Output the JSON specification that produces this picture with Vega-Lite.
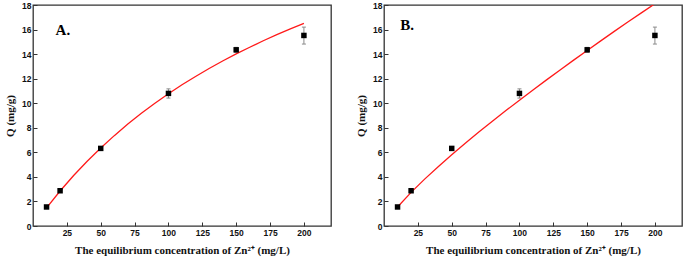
{
  "$schema": "https://vega.github.io/schema/vega-lite/v6.json",
  "padding": {"left": 3, "top": 0, "right": 2, "bottom": 0},
  "background": "white",
  "datasets": {
    "obs": [
      {"c": 10, "q": 1.55, "lo": 1.45, "hi": 1.65},
      {"c": 20, "q": 2.87, "lo": 2.75, "hi": 2.98},
      {"c": 50, "q": 6.32, "lo": 6.2, "hi": 6.45},
      {"c": 100, "q": 10.8, "lo": 10.42, "hi": 11.17},
      {"c": 150, "q": 14.35, "lo": 14.15, "hi": 14.55},
      {"c": 200, "q": 15.52, "lo": 14.82, "hi": 16.2}
    ],
    "fitA": [
      {"c": 10, "q": 1.48}, {"c": 20, "q": 2.85}, {"c": 30, "q": 4.11}, {"c": 40, "q": 5.27},
      {"c": 50, "q": 6.35}, {"c": 60, "q": 7.36}, {"c": 70, "q": 8.3}, {"c": 80, "q": 9.18},
      {"c": 90, "q": 10.0}, {"c": 100, "q": 10.77}, {"c": 110, "q": 11.5}, {"c": 120, "q": 12.18},
      {"c": 130, "q": 12.83}, {"c": 140, "q": 13.44}, {"c": 150, "q": 14.02}, {"c": 160, "q": 14.56},
      {"c": 170, "q": 15.09}, {"c": 180, "q": 15.58}, {"c": 190, "q": 16.05}, {"c": 200, "q": 16.5}
    ],
    "fitB": [
      {"c": 10, "q": 1.55}, {"c": 20, "q": 2.74}, {"c": 30, "q": 3.82}, {"c": 40, "q": 4.83},
      {"c": 50, "q": 5.8}, {"c": 60, "q": 6.74}, {"c": 70, "q": 7.65}, {"c": 80, "q": 8.54},
      {"c": 90, "q": 9.4}, {"c": 100, "q": 10.25}, {"c": 110, "q": 11.08}, {"c": 120, "q": 11.9},
      {"c": 130, "q": 12.71}, {"c": 140, "q": 13.51}, {"c": 150, "q": 14.3}, {"c": 160, "q": 15.08},
      {"c": 170, "q": 15.85}, {"c": 180, "q": 16.61}, {"c": 190, "q": 17.36}, {"c": 200, "q": 18.1}
    ]
  },
  "spacing": 22,
  "hconcat": [
    {
      "width": 298,
      "height": 221,
      "layer": [
        {
          "data": {"name": "obs"},
          "mark": {"type": "rule", "color": "#8a8a8a", "strokeWidth": 1},
          "encoding": {
            "x": {"field": "c", "type": "quantitative", "scale": {"domain": [0, 220], "nice": false},
                  "axis": {"values": [25, 50, 75, 100, 125, 150, 175, 200], "tickCount": 20, "labelOverlap": false, "title": "The equilibrium concentration of Zn²⁺ (mg/L)"}},
            "y": {"field": "lo", "type": "quantitative", "scale": {"domain": [0, 18], "nice": false},
                  "axis": {"values": [0, 2, 4, 6, 8, 10, 12, 14, 16, 18], "tickCount": 20, "labelOverlap": false, "labelFlush": false, "title": "Q (mg/g)"}},
            "y2": {"field": "hi"}
          }
        },
        {
          "data": {"name": "obs"},
          "mark": {"type": "tick", "orient": "horizontal", "size": 4, "thickness": 1, "color": "#8a8a8a", "opacity": 1},
          "encoding": {"x": {"field": "c", "type": "quantitative"}, "y": {"field": "lo", "type": "quantitative"}}
        },
        {
          "data": {"name": "obs"},
          "mark": {"type": "tick", "orient": "horizontal", "size": 4, "thickness": 1, "color": "#8a8a8a", "opacity": 1},
          "encoding": {"x": {"field": "c", "type": "quantitative"}, "y": {"field": "hi", "type": "quantitative"}}
        },
        {
          "data": {"name": "fitA"},
          "mark": {"type": "line", "color": "#ff1a1a", "strokeWidth": 1.3, "clip": true},
          "encoding": {"x": {"field": "c", "type": "quantitative"}, "y": {"field": "q", "type": "quantitative"}}
        },
        {
          "data": {"name": "obs"},
          "mark": {"type": "square", "size": 30, "color": "black", "opacity": 1, "filled": true},
          "encoding": {"x": {"field": "c", "type": "quantitative"}, "y": {"field": "q", "type": "quantitative"}}
        },
        {
          "data": {"values": [{"label": "A."}]},
          "mark": {"type": "text", "font": "Liberation Serif", "fontWeight": "bold", "fontSize": 15, "align": "left", "baseline": "alphabetic", "color": "black"},
          "encoding": {
            "x": {"datum": 16.7},
            "y": {"datum": 15.57},
            "text": {"field": "label"}
          }
        }
      ]
    },
    {
      "width": 298,
      "height": 221,
      "layer": [
        {
          "data": {"name": "obs"},
          "mark": {"type": "rule", "color": "#8a8a8a", "strokeWidth": 1},
          "encoding": {
            "x": {"field": "c", "type": "quantitative", "scale": {"domain": [0, 220], "nice": false},
                  "axis": {"values": [25, 50, 75, 100, 125, 150, 175, 200], "tickCount": 20, "labelOverlap": false, "title": "The equilibrium concentration of Zn²⁺ (mg/L)"}},
            "y": {"field": "lo", "type": "quantitative", "scale": {"domain": [0, 18], "nice": false},
                  "axis": {"values": [0, 2, 4, 6, 8, 10, 12, 14, 16, 18], "tickCount": 20, "labelOverlap": false, "labelFlush": false, "title": "Q (mg/g)"}},
            "y2": {"field": "hi"}
          }
        },
        {
          "data": {"name": "obs"},
          "mark": {"type": "tick", "orient": "horizontal", "size": 4, "thickness": 1, "color": "#8a8a8a", "opacity": 1},
          "encoding": {"x": {"field": "c", "type": "quantitative"}, "y": {"field": "lo", "type": "quantitative"}}
        },
        {
          "data": {"name": "obs"},
          "mark": {"type": "tick", "orient": "horizontal", "size": 4, "thickness": 1, "color": "#8a8a8a", "opacity": 1},
          "encoding": {"x": {"field": "c", "type": "quantitative"}, "y": {"field": "hi", "type": "quantitative"}}
        },
        {
          "data": {"name": "fitB"},
          "mark": {"type": "line", "color": "#ff1a1a", "strokeWidth": 1.3, "clip": true},
          "encoding": {"x": {"field": "c", "type": "quantitative"}, "y": {"field": "q", "type": "quantitative"}}
        },
        {
          "data": {"name": "obs"},
          "mark": {"type": "square", "size": 30, "color": "black", "opacity": 1, "filled": true},
          "encoding": {"x": {"field": "c", "type": "quantitative"}, "y": {"field": "q", "type": "quantitative"}}
        },
        {
          "data": {"values": [{"label": "B."}]},
          "mark": {"type": "text", "font": "Liberation Serif", "fontWeight": "bold", "fontSize": 15, "align": "left", "baseline": "alphabetic", "color": "black"},
          "encoding": {
            "x": {"datum": 12},
            "y": {"datum": 15.97},
            "text": {"field": "label"}
          }
        }
      ]
    }
  ],
  "config": {
    "view": {"stroke": "#333333", "strokeWidth": 1.3},
    "axis": {
      "grid": false,
      "domain": false,
      "tickSize": -4,
      "tickColor": "#333333",
      "tickWidth": 1,
      "labelOverlap": false,
      "labelFont": "Liberation Sans",
      "labelFontWeight": "bold",
      "labelFontSize": 8.5,
      "labelColor": "#111111",
      "labelPadding": 6,
      "titleFont": "Liberation Serif",
      "titleFontWeight": "bold",
      "titleFontSize": 11,
      "titleColor": "#111111"
    },
    "axisX": {"titlePadding": 8},
    "axisY": {"titlePadding": 6}
  }
}
